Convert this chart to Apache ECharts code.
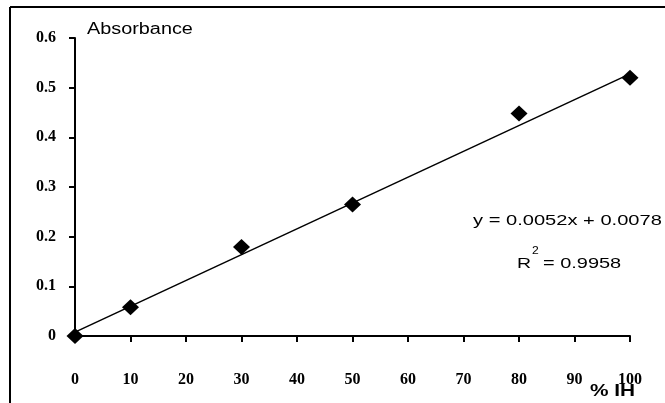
<!DOCTYPE html>
<html>
<head>
<meta charset="utf-8">
<script src="https://cdn.jsdelivr.net/npm/echarts@6/dist/echarts.min.js"></script>
<style>
html,body{margin:0;padding:0;background:#fff;}
#chart{width:665px;height:403px;}
</style>
</head>
<body>
<div id="chart"></div>
<script>
// Data
var concentration = [0, 10, 30, 50, 80, 100];          // % IH
var absorbance    = [0, 0.058, 0.179, 0.265, 0.448, 0.52];
// Trendline end points (from y = 0.0052x + 0.0078)
var trendX = [0, 100];
var trendY = [0.0078, 0.5278];
var xTicks = [0, 10, 20, 30, 40, 50, 60, 70, 80, 90, 100];
var yTicks = [0, 0.1, 0.2, 0.3, 0.4, 0.5, 0.6];
var equationText = 'y = 0.0052x + 0.0078';
var r2Value = '0.9958';

var points = concentration.map(function (x, i) { return [x, absorbance[i]]; });
var trend = trendX.map(function (x, i) { return [x, trendY[i]]; });

var chart = echarts.init(document.getElementById('chart'), null, {renderer: 'canvas'});
var tickFont = {color: '#000', fontFamily: '"Liberation Serif", serif', fontWeight: 'bold', fontSize: 16};
var sans = '"Liberation Sans", Arial, sans-serif';

chart.setOption({
  animation: false,
  backgroundColor: '#fff',
  grid: {left: 75, right: 35, top: 38, bottom: 67, containLabel: false},
  xAxis: {
    type: 'value', min: xTicks[0], max: xTicks[xTicks.length - 1], interval: 10,
    axisLine: {show: true, onZero: false, lineStyle: {color: '#000', width: 2}},
    axisTick: {show: true, inside: false, length: 6, lineStyle: {color: '#000', width: 2}},
    axisLabel: Object.assign({margin: 36}, tickFont),
    splitLine: {show: false}
  },
  yAxis: {
    type: 'value', min: yTicks[0], max: yTicks[yTicks.length - 1], interval: 0.1,
    axisLine: {show: true, onZero: false, lineStyle: {color: '#000', width: 2}},
    axisTick: {show: true, inside: false, length: 6, lineStyle: {color: '#000', width: 2}},
    axisLabel: Object.assign({margin: 19, formatter: function (v) { return v === 0 ? '0' : v.toFixed(1); }}, tickFont),
    splitLine: {show: false}
  },
  series: [
    {
      type: 'line', data: trend, symbol: 'none', silent: true,
      lineStyle: {color: '#000', width: 1.5}, z: 2
    },
    {
      type: 'scatter', data: points, symbol: 'diamond', symbolSize: [17, 16],
      itemStyle: {color: '#000', opacity: 1}, z: 3
    }
  ],
  graphic: [
    {type: 'line', shape: {x1: 10, y1: 7, x2: 665, y2: 7}, style: {stroke: '#000', lineWidth: 2}},
    {type: 'line', shape: {x1: 10, y1: 7, x2: 10, y2: 403}, style: {stroke: '#000', lineWidth: 2}},
    {type: 'text', x: 87, y: 30, scaleX: 1.24,
      style: {text: 'Absorbance', font: '16px ' + sans, fill: '#000', verticalAlign: 'middle'}},
    {type: 'text', x: 473, y: 221, scaleX: 1.34,
      style: {text: equationText, font: '15px ' + sans, fill: '#000', verticalAlign: 'middle'}},
    {type: 'text', x: 517, y: 264, scaleX: 1.3,
      style: {text: 'R', font: '15px ' + sans, fill: '#000', verticalAlign: 'middle'}},
    {type: 'text', x: 532, y: 251, scaleX: 1.1,
      style: {text: '2', font: '11px ' + sans, fill: '#000', verticalAlign: 'middle'}},
    {type: 'text', x: 543, y: 264, scaleX: 1.33,
      style: {text: '= ' + r2Value, font: '15px ' + sans, fill: '#000', verticalAlign: 'middle'}},
    {type: 'text', x: 590, y: 392, scaleX: 1.3,
      style: {text: '% IH', font: 'bold 16px ' + sans, fill: '#000', verticalAlign: 'middle'}}
  ]
});
</script>
</body>
</html>
